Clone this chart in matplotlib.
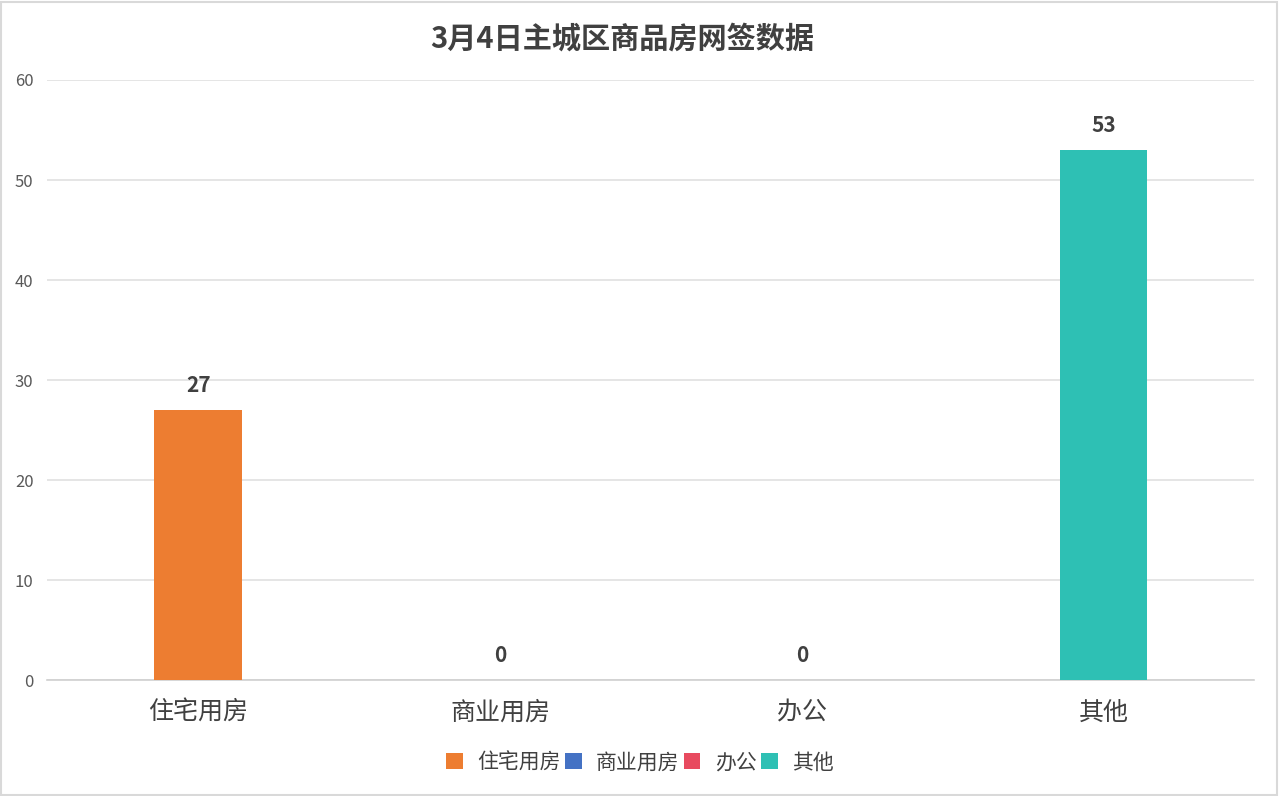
import matplotlib
matplotlib.use('Agg')
import matplotlib.pyplot as plt
from matplotlib.patches import Rectangle

plt.rcParams['font.family'] = ['Noto Sans CJK SC', 'DejaVu Sans']

# chart data
categories = ['住宅用房', '商业用房', '办公', '其他']
values = [27, 0, 0, 53]
colors = ['#ED7D31', '#4472C4', '#E84A5F', '#2EC0B4']
yticks = [0, 10, 20, 30, 40, 50, 60]
title = '3月4日主城区商品房网签数据'

fig = plt.figure(figsize=(12.8, 7.96), dpi=100)
ax = fig.add_axes([0.037, 0.1457, 0.943, 0.7538])

# light border around the whole chart
fig.patches.append(Rectangle((0.001, 0.001), 0.997, 0.997, transform=fig.transFigure,
                             fill=False, edgecolor='#D9D9D9', linewidth=1.5))

x = range(len(categories))
for i, (cat, val, col) in enumerate(zip(categories, values, colors)):
    ax.bar(i, val, width=0.29, color=col, label=cat, zorder=3)
    ax.annotate(str(val), (i, val), xytext=(0, 10), textcoords='offset points',
                ha='center', va='bottom', fontsize=15, fontweight='bold', color='#404040')

ax.set_xlim(-0.5, len(categories) - 0.5)
ax.set_ylim(0, 60)
ax.set_yticks(yticks)
ax.set_xticks(list(x))
ax.set_xticklabels(categories, fontsize=18, color='#404040')
ax.tick_params(axis='y', labelsize=12, labelcolor='#595959', length=0, pad=10)
ax.tick_params(axis='x', length=0, pad=14)
ax.grid(axis='y', color='#E0E0E0', linewidth=1.2, zorder=0)
for s in ['top', 'right', 'left']:
    ax.spines[s].set_visible(False)
ax.spines['bottom'].set_color('#D0D0D0')
ax.spines['bottom'].set_linewidth(1.2)

fig.text(0.486, 0.952, title, ha='center', va='center', fontsize=21, fontweight='bold', color='#404040')

fig.legend(loc='center', bbox_to_anchor=(0.5, 0.042), ncol=4, frameon=False,
           fontsize=15, handlelength=0.8, handleheight=0.8, handletextpad=0.7,
           columnspacing=0.2, labelcolor='#404040')

fig.savefig('out.png', dpi=100)
